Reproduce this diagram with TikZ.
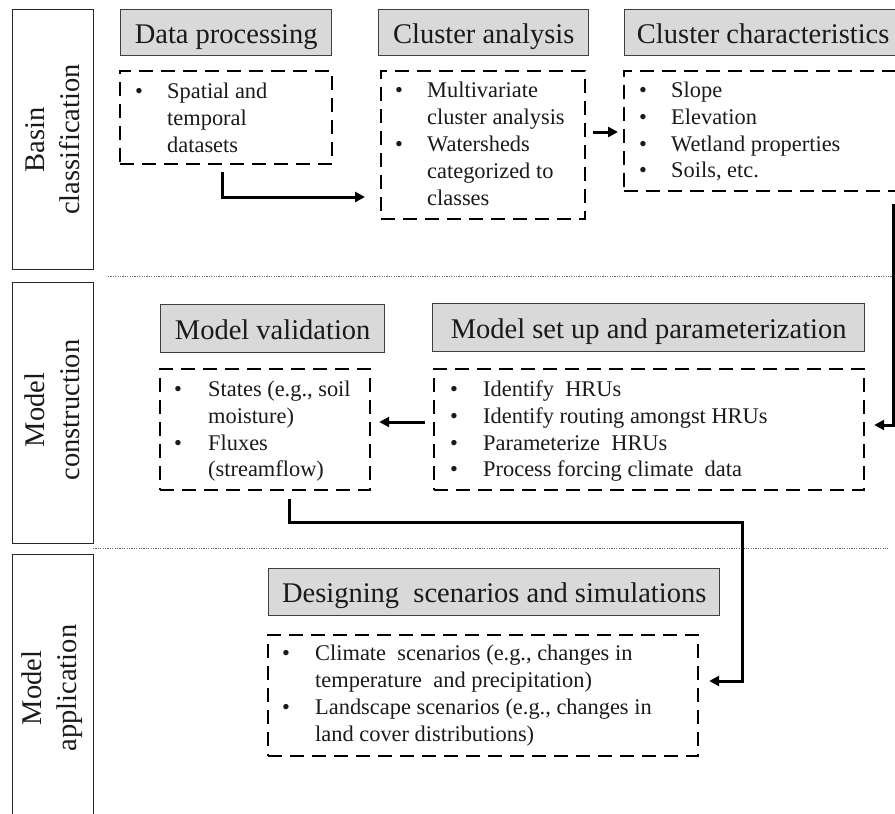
\documentclass[tikz,border=0pt]{standalone}
\usepackage{fontspec}
\setmainfont{Liberation Serif}
\usetikzlibrary{arrows.meta,calc}
\definecolor{hdrfill}{HTML}{D9D9D9}
\definecolor{hdrline}{HTML}{404040}
\definecolor{txt}{HTML}{1A1A1A}
\begin{document}
\begin{tikzpicture}[x=1pt,y=-1pt,
  hdr/.style={draw=hdrline, fill=hdrfill, line width=1.4pt, anchor=north west, inner sep=0pt, text height=21pt, text depth=0pt, font=\fontsize{28.5}{33}\selectfont, text=txt},
  dbox/.style={draw=black, line width=2.2pt, dash pattern=on 14pt off 8pt, anchor=north west, inner sep=0pt},
  lblbox/.style={draw=black!85, line width=1.1pt, anchor=north west, inner sep=0pt},
  lbl/.style={rotate=90, align=center, inner sep=0pt, font=\fontsize{28.5}{35}\selectfont, text=txt},
  ln/.style={anchor=base west, inner sep=0pt, font=\fontsize{22.4}{27}\selectfont, text=txt},
  arr/.style={line width=3pt, -{Triangle[length=10pt,width=10pt]}},
  sepline/.style={draw=black!60, line width=0.9pt, dash pattern=on 1.2pt off 1.2pt},
]
\clip (0,0) rectangle (895,814);
\fill[white] (0,0) rectangle (895,814);

% side labels
\node[lblbox, minimum width=81pt, minimum height=260pt] (L1) at (12,9) {};
\node[lbl] (L1t) at (L1.center) {Basin\\classification};
\node[lblbox, minimum width=81pt, minimum height=261pt] (L2) at (12,282) {};
\node[lbl] (L2t) at (52.5,410) {Model\\construction};
\node[lblbox, minimum width=81pt, minimum height=300pt] (L3) at (12,554) {};
\node[lbl] (L3t) at (52.5,688) {Model\\application};

% separators
\draw[sepline] (108,276) -- (895,276);
\draw[sepline] (93,548) -- (888,548);

% headers
\node[hdr, minimum width=211pt, minimum height=46pt] (H1) at (120,9) {Data processing};
\node[hdr, minimum width=210pt, minimum height=46pt] (H2) at (378,9) {Cluster analysis};
\node[hdr, minimum width=277pt, minimum height=46pt] (H3) at (624,9) {Cluster characteristics};
\node[hdr, minimum width=224pt, minimum height=48pt] (H4) at (160,304) {Model validation};
\node[hdr, minimum width=432pt, minimum height=48pt] (H5) at (432,303) {Model set up and parameterization};
\node[hdr, minimum width=451pt, minimum height=47pt] (H6) at (268,568) {Designing\ \ scenarios and simulations};

% dashed boxes
\node[dbox, minimum width=212pt, minimum height=93pt] (B1) at (119,70) {};
\node[dbox, minimum width=204pt, minimum height=148pt] (B2) at (380,70) {};
\node[dbox, minimum width=285pt, minimum height=120pt] (B3) at (623,70) {};
\node[dbox, minimum width=210pt, minimum height=121pt] (B4) at (159,368) {};
\node[dbox, minimum width=430pt, minimum height=121pt] (B5) at (433,368) {};
\node[dbox, minimum width=430pt, minimum height=121pt] (B6) at (267,634) {};

% B1 text
\node[ln] (b1a) at (135,98) {•};
\node[ln] (t1a) at (167,98) {Spatial and};
\node[ln] (t1b) at (167,125) {temporal};
\node[ln] (t1c) at (167,152) {datasets};

% B2 text
\node[ln] (b2a) at (395,97) {•};
\node[ln] (t2a) at (427,97) {Multivariate};
\node[ln] (t2b) at (427,124) {cluster analysis};
\node[ln] (b2b) at (395,151) {•};
\node[ln] (t2c) at (427,151) {Watersheds};
\node[ln] (t2d) at (427,178) {categorized to};
\node[ln] (t2e) at (427,205) {classes};

% B3 text
\node[ln] (b3a) at (639,97) {•};
\node[ln] (t3a) at (671,97) {Slope};
\node[ln] (b3b) at (639,124) {•};
\node[ln] (t3b) at (671,124) {Elevation};
\node[ln] (b3c) at (639,151) {•};
\node[ln] (t3c) at (671,151) {Wetland properties};
\node[ln] (b3d) at (639,177) {•};
\node[ln] (t3d) at (671,177) {Soils, etc.};

% B4 text
\node[ln] (b4a) at (174,396) {•};
\node[ln] (t4a) at (208,396) {States (e.g., soil};
\node[ln] (t4b) at (208,423) {moisture)};
\node[ln] (b4b) at (174,450) {•};
\node[ln] (t4c) at (208,450) {Fluxes};
\node[ln] (t4d) at (208,476) {(streamflow)};

% B5 text
\node[ln] (b5a) at (450,396) {•};
\node[ln] (t5a) at (483,396) {Identify\ \ HRUs};
\node[ln] (b5b) at (450,423) {•};
\node[ln] (t5b) at (483,423) {Identify routing amongst HRUs};
\node[ln] (b5c) at (450,450) {•};
\node[ln] (t5c) at (483,450) {Parameterize\ \ HRUs};
\node[ln] (b5d) at (450,476) {•};
\node[ln] (t5d) at (483,476) {Process forcing climate\ \ data};

% B6 text
\node[ln] (b6a) at (282,660) {•};
\node[ln] (t6a) at (315,660) {Climate\ \ scenarios (e.g., changes in};
\node[ln] (t6b) at (315,687) {temperature\ \ and precipitation)};
\node[ln] (b6b) at (282,714) {•};
\node[ln] (t6c) at (315,714) {Landscape scenarios (e.g., changes in};
\node[ln] (t6d) at (315,741) {land cover distributions)};

% connectors
\coordinate (a1s) at ($(B1.south -| 222,0)+(0,7)$);
\coordinate (a1e) at ($(B2.west |- 0,197)+(-15,0)$);
\draw[arr] (a1s) |- (a1e);

\coordinate (a2s) at ($(B2.east |- 0,132)+(7,0)$);
\coordinate (a2e) at ($(B3.west |- 0,132)+(-5,0)$);
\draw[arr] (a2s) -- (a2e);

\coordinate (a3s) at ($(B3.south -| 893,0)+(0,12)$);
\coordinate (a3e) at ($(B5.east |- 0,425)+(9,0)$);
\draw[arr] (a3s) |- (a3e);

\coordinate (a4s) at ($(B5.west |- 0,422)+(-8,0)$);
\coordinate (a4e) at ($(B4.east |- 0,422)+(8,0)$);
\draw[arr] (a4s) -- (a4e);

\coordinate (a5s) at ($(B4.south -| 289,0)+(0,8)$);
\coordinate (a5m) at (742,522);
\coordinate (a5e) at ($(B6.east |- 0,681)+(10,0)$);
\draw[arr] (a5s) |- (a5m) |- (a5e);
\end{tikzpicture}
\end{document}
